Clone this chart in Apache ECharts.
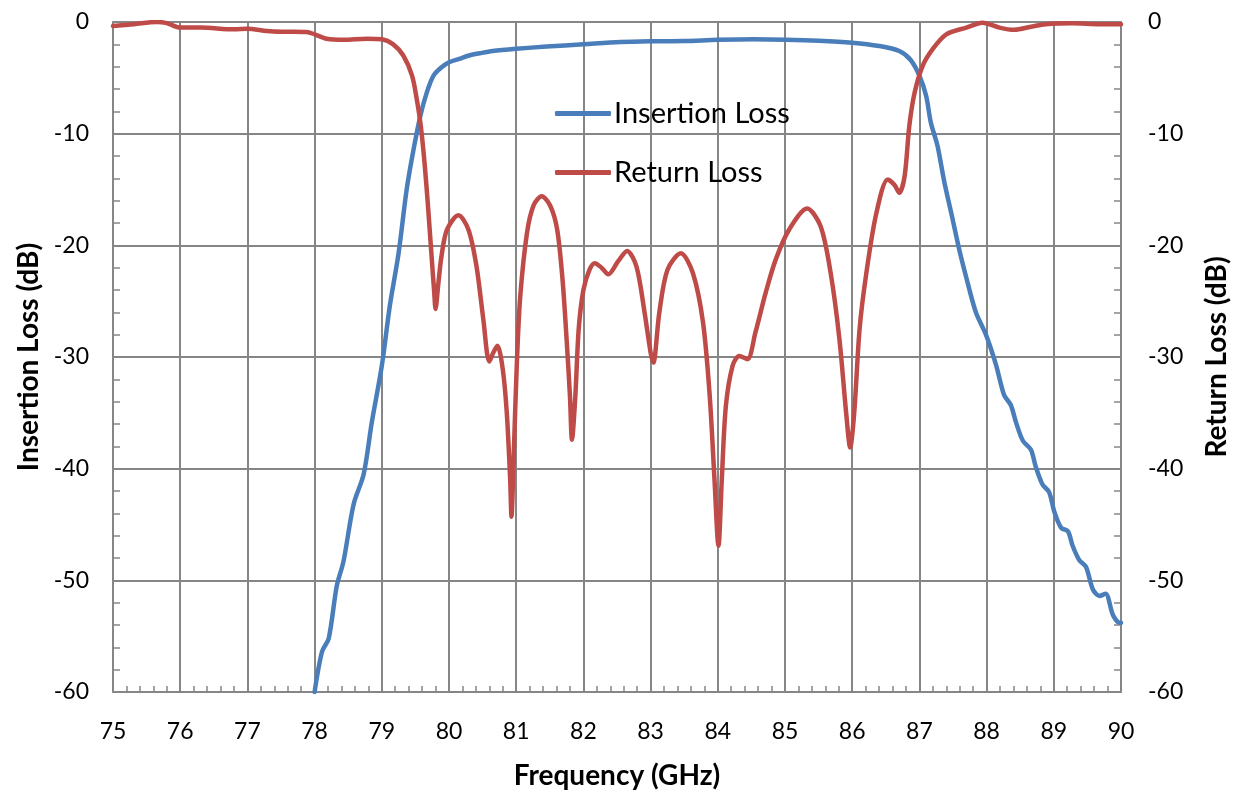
<!DOCTYPE html>
<html>
<head>
<meta charset="utf-8">
<script src="https://cdn.jsdelivr.net/npm/echarts@6/dist/echarts.min.js"></script>
<style>
html,body{margin:0;padding:0;background:#fff;}
#chart{width:1238px;height:792px;}
</style>
</head>
<body>
<div id="chart"></div>
<script>
// Insertion Loss (blue)
const ilFreq = [78.0,78.11,78.21,78.33,78.43,78.58,78.73,78.85,79.0,79.12,79.25,79.37,79.47,79.57,79.67,79.77,79.88,80.0,80.15,80.3,80.46,80.65,81.0,81.45,82.0,82.55,83.0,83.5,84.0,84.53,85.0,85.5,86.0,86.4,86.7,86.87,87.0,87.1,87.17,87.27,87.37,87.47,87.59,87.69,87.84,87.99,88.14,88.26,88.36,88.44,88.54,88.66,88.73,88.83,88.93,89.01,89.11,89.21,89.28,89.38,89.48,89.58,89.68,89.77,89.88,89.98,90.0];
const ilVal = [-60,-56.4,-55.2,-50.5,-48.3,-43.2,-40.5,-35.9,-30.8,-25.4,-20.7,-15.0,-11.5,-8.5,-6.3,-4.8,-4.1,-3.6,-3.3,-3.0,-2.8,-2.6,-2.4,-2.2,-2.0,-1.8,-1.73,-1.7,-1.6,-1.55,-1.58,-1.67,-1.85,-2.15,-2.6,-3.4,-4.8,-6.6,-9.0,-11.1,-14.3,-17.0,-20.3,-22.7,-26.0,-28.0,-30.7,-33.4,-34.3,-35.9,-37.5,-38.3,-39.8,-41.4,-42.1,-43.9,-45.3,-45.6,-46.9,-48.2,-48.8,-50.8,-51.4,-51.2,-53.1,-53.8,-53.8];

// Return Loss (red)
const rlFreq = [75.0,75.31,75.65,75.8,76.0,76.3,76.8,77.0,77.29,77.53,77.88,78.0,78.18,78.43,78.78,79.0,79.17,79.32,79.45,79.52,79.58,79.64,79.69,79.74,79.78,79.80,79.84,79.89,79.97,80.14,80.29,80.41,80.51,80.6,80.66,80.72,80.80,80.86,80.91,80.93,80.96,81.01,81.06,81.16,81.26,81.38,81.51,81.61,81.69,81.75,81.80,81.83,81.88,81.93,82.0,82.09,82.17,82.27,82.37,82.52,82.65,82.79,82.91,83.0,83.04,83.13,83.25,83.45,83.63,83.78,83.88,83.95,84.01,84.06,84.12,84.22,84.32,84.44,84.56,84.71,84.86,85.06,85.33,85.53,85.68,85.81,85.91,85.97,86.03,86.11,86.21,86.36,86.53,86.63,86.70,86.78,86.85,86.93,87.05,87.2,87.4,87.7,87.94,88.19,88.41,88.68,88.88,89.28,89.68,90.0];
const rlVal = [-0.36,-0.2,0,-0.1,-0.5,-0.5,-0.66,-0.6,-0.8,-0.87,-0.9,-1.1,-1.5,-1.6,-1.5,-1.55,-2.0,-3.0,-4.8,-6.9,-9.3,-12.9,-16.7,-20.9,-24.2,-25.7,-23.5,-20.9,-18.6,-17.3,-18.6,-21.9,-26.6,-30.4,-29.6,-29.0,-31.1,-35.0,-40.9,-44.3,-39.4,-30.5,-24.6,-18.9,-16.4,-15.6,-16.5,-18.6,-23.1,-28.4,-33.5,-37.4,-33.5,-27.5,-24.0,-22.2,-21.6,-22.0,-22.6,-21.4,-20.5,-21.9,-26.0,-29.6,-30.5,-26.0,-22.2,-20.7,-22.5,-26.9,-33.5,-40.9,-46.9,-40.9,-34.4,-30.8,-29.9,-30.2,-27.8,-24.3,-21.3,-18.6,-16.7,-18.3,-22.5,-28.4,-35.0,-38.1,-35.0,-27.5,-22.5,-17.1,-14.1,-14.6,-15.3,-13.8,-9.3,-6.3,-3.9,-2.4,-1.1,-0.5,-0.06,-0.5,-0.7,-0.4,-0.2,-0.12,-0.2,-0.2];

const seriesNames = ['Insertion Loss', 'Return Loss'];
const xName = 'Frequency (GHz)';
const yLeftName = 'Insertion Loss (dB)';
const yRightName = 'Return Loss (dB)';

const zip = (a, b) => a.map((v, i) => [v, b[i]]);

const FONT = 'Lato';
const gridColor = '#868686';

function yAxisCfg(name, isRight) {
  return {
    type: 'value', min: -60, max: 0, interval: 10,
    position: isRight ? 'right' : 'left',
    name: name, nameLocation: 'middle', nameRotate: 90,
    nameGap: isRight ? 82 : 70,
    nameTextStyle: { fontFamily: FONT, fontSize: 28, fontWeight: 'bold', color: '#000' },
    axisLine: { show: true, onZero: false, lineStyle: { color: gridColor, width: 2 } },
    axisTick: { show: true, inside: true, length: 7, lineStyle: { color: gridColor, width: 2 } },
    minorTick: { show: true, splitNumber: 5, length: 7, lineStyle: { color: gridColor, width: 1.5 } },
    splitLine: { show: !isRight, lineStyle: { color: gridColor, width: 2 } },
    axisLabel: { fontFamily: FONT, fontSize: 23, color: '#000', margin: isRight ? 27 : 24 }
  };
}

const chart = echarts.init(document.getElementById('chart'), null, { renderer: 'canvas' });
chart.setOption({
  animation: false,
  backgroundColor: '#fff',
  grid: { left: 113, right: 117, top: 22, bottom: 100, containLabel: false, outerBoundsMode: 'none' },
  legend: {
    left: 550, top: 94, orient: 'vertical',
    icon: 'roundRect', itemWidth: 56, itemHeight: 5, itemGap: 30,
    textStyle: { fontFamily: FONT, fontSize: 29, color: '#000', lineHeight: 28, padding: [0, 0, 0, -2] },
    data: seriesNames
  },
  xAxis: {
    type: 'value', min: 75, max: 90, interval: 1,
    name: xName, nameLocation: 'middle', nameGap: 70,
    nameTextStyle: { fontFamily: FONT, fontSize: 28, fontWeight: 'bold', color: '#000' },
    axisLine: { show: true, onZero: false, lineStyle: { color: gridColor, width: 2 } },
    axisTick: { show: true, inside: true, length: 6, lineStyle: { color: gridColor, width: 2 } },
    minorTick: { show: true, splitNumber: 5, length: 6, lineStyle: { color: gridColor, width: 1.5 } },
    splitLine: { show: true, lineStyle: { color: gridColor, width: 2 } },
    axisLabel: { fontFamily: FONT, fontSize: 23, color: '#000', margin: 28 }
  },
  yAxis: [yAxisCfg(yLeftName, false), yAxisCfg(yRightName, true)],
  series: [
    {
      name: seriesNames[0], type: 'line', yAxisIndex: 0,
      data: zip(ilFreq, ilVal), showSymbol: false, symbol: 'none', smooth: 0.3,
      lineStyle: { color: '#4A7EBB', width: 4.5, cap: 'round', join: 'round' },
      itemStyle: { color: '#4A7EBB' }, z: 3
    },
    {
      name: seriesNames[1], type: 'line', yAxisIndex: 1,
      data: zip(rlFreq, rlVal), showSymbol: false, symbol: 'none', smooth: 0.3,
      lineStyle: { color: '#BE4B48', width: 4.5, cap: 'round', join: 'round' },
      itemStyle: { color: '#BE4B48' }, z: 4
    }
  ]
});
</script>
</body>
</html>
